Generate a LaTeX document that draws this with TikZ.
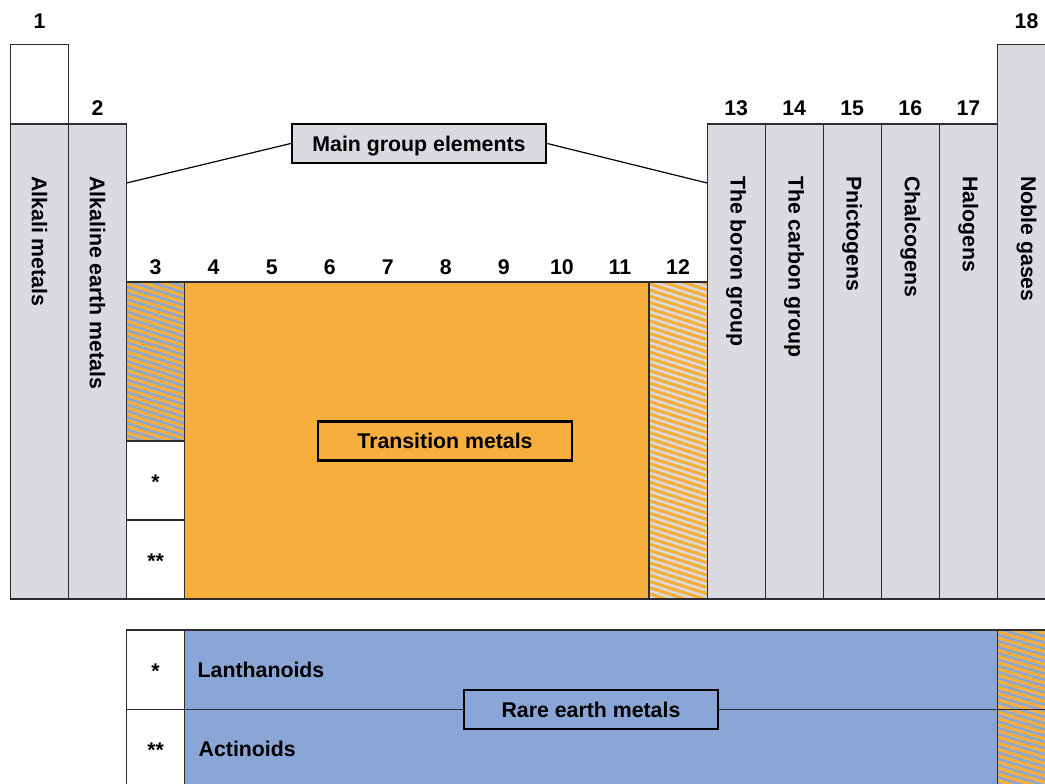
\documentclass[tikz,border=0pt]{standalone}
\usepackage{fontspec}
\setmainfont{Liberation Sans}
\definecolor{pgrey}{RGB}{218,219,224}
\definecolor{porange}{RGB}{246,174,60}
\definecolor{pblue}{RGB}{137,166,214}
\definecolor{lc}{RGB}{45,45,48}
\newcommand\hatchbox[5]{%
  \begin{scope}
    \clip (#1,#2) rectangle (#3,#4);
    \fill[#5] (#1,#2) rectangle (#3,#4);
    \foreach \k in {-6,...,56}
      \draw[porange, line width=3.2pt] (#1-5,#2+\k*6.2) -- (#3+5,#2+\k*6.2+22);
  \end{scope}}
\begin{document}
\begin{tikzpicture}[x=1pt,y=-1pt,
  cell/.style={draw=lc, line width=1.2pt},
  lbl/.style={font=\fontsize{21.3}{25}\selectfont\bfseries, inner sep=0pt},
  num/.style={lbl, anchor=base},
  vlbl/.style={lbl, rotate=-90, anchor=west},
  tagbox/.style={draw=black, line width=2.5pt, minimum width=254pt, minimum height=39pt, lbl, text height=15.3pt, text depth=0pt},
  conn/.style={draw=black, line width=1.2pt}]
\useasboundingbox (0,0) rectangle (1045,784);
\clip (0,0) rectangle (1045,784);
% ---- main table fills
\fill[white] (10.5,44.5) rectangle (68.55,124);
\fill[pgrey] (10.5,124) rectangle (68.55,599);
\fill[pgrey] (68.55,124) rectangle (126.6,599);
\hatchbox{126.6}{282}{184.65}{441}{pblue}
\fill[white] (126.6,441) rectangle (184.65,599);
\fill[porange] (184.65,282) rectangle (649.05,599);
\hatchbox{649.05}{282}{707.1}{599}{pgrey}
\fill[pgrey] (707.1,124) rectangle (997.5,599);
\fill[pgrey] (997.5,44.5) rectangle (1060,599);
% ---- main table borders
\draw[cell] (10.5,44.5) rectangle (68.55,599);
\draw[cell] (10.5,124) -- (68.55,124);
\draw[cell] (68.55,124) rectangle (126.6,599);
\draw[cell] (126.6,282) rectangle (184.65,441);
\draw[cell] (126.6,441) rectangle (184.65,520);
\draw[cell] (126.6,520) rectangle (184.65,599);
\draw[cell] (184.65,282) rectangle (649.05,599);
\draw[cell] (649.05,282) rectangle (707.1,599);
\foreach \xa/\xb in {707.1/765.16,765.16/823.22,823.22/881.28,881.28/939.34,939.34/997.5}
  \draw[cell] (\xa,124) rectangle (\xb,599);
\draw[cell] (997.5,44.5) rectangle (1060,599);
% ---- lower block
\fill[white] (126.6,630) rectangle (184.65,790);
\fill[pblue] (184.65,630) rectangle (997.5,790);
\hatchbox{997.5}{630}{1060}{790}{pblue}
\draw[cell] (126.6,630) rectangle (1060,790);
\draw[cell] (184.65,630) -- (184.65,790);
\draw[cell] (997.5,630) -- (997.5,790);
\draw[cell] (126.6,709.5) -- (1060,709.5);
% ---- group numbers
\node[num] (g1) at (39.5,29) {1};
\node[num] (g2) at (97.5,115) {2};
\foreach \n [count=\i from 0] in {3,4,5,6,7,8,9,10,11,12}
  \node[num] (g\n) at (155.6+\i*58.05,274) {\n};
\foreach \n [count=\i from 0] in {13,14,15,16,17}
  \node[num] (g\n) at (736.1+\i*58.06,115) {\n};
\node[num] (g18) at (1026.5,29) {18};
% ---- vertical labels
\node[vlbl] (l1) at (39.5,176) {Alkali metals};
\node[vlbl] (l2) at (97.5,176) {Alkaline earth metals};
\node[vlbl] (l13) at (736.1,176) {The boron group};
\node[vlbl] (l14) at (794.2,176) {The carbon group};
\node[vlbl] (l15) at (852.2,176) {Pnictogens};
\node[vlbl] (l16) at (910.3,176) {Chalcogens};
\node[vlbl] (l17) at (968.4,176) {Halogens};
\node[vlbl] (l18) at (1026.5,176) {Noble gases};
% ---- stars
\node[lbl] (s1) at (155.6,482) {*};
\node[lbl] (s2) at (155.6,561) {**};
\node[lbl] (s3) at (155.6,671) {*};
\node[lbl] (s4) at (155.6,750) {**};
\node[lbl, anchor=west] (lan) at (197.5,670) {Lanthanoids};
\node[lbl, anchor=west] (act) at (198.5,749) {Actinoids};
% ---- tags and connectors
\coordinate (mgL) at (126.6,183);
\coordinate (mgR) at (707.1,183);
\node[tagbox, fill=pgrey] (mg) at (419,143.5) {Main group elements};
\draw[conn] (mg.west) -- (mgL);
\draw[conn] (mg.east) -- (mgR);
\node[tagbox] (tm) at (445,441) {Transition metals};
\node[tagbox, fill=pblue] (re) at (591,709.5) {Rare earth metals};
\end{tikzpicture}
\end{document}
